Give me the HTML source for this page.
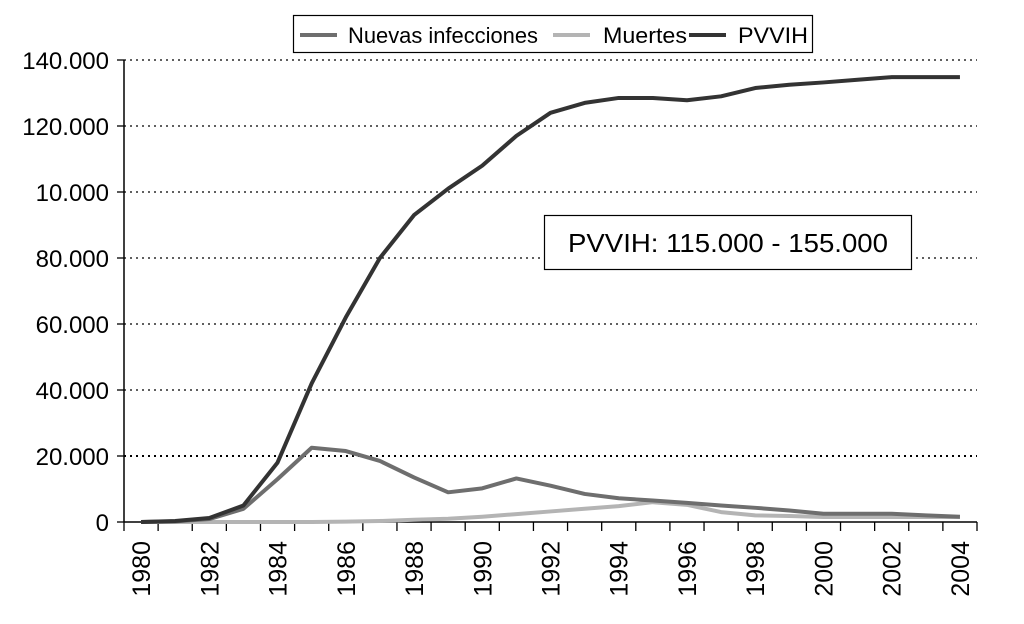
<!DOCTYPE html>
<html><head><meta charset="utf-8"><style>
html,body{margin:0;padding:0;background:#fff;}
svg{display:block;font-family:"Liberation Sans",sans-serif;}
</style></head><body>
<svg id="chart" width="1024" height="624" viewBox="0 0 1024 624">
<g id="grid"></g>
<g id="axes"></g>
<g id="series"></g>
<g>
 <rect x="293.5" y="15.5" width="519" height="37" fill="#fff" stroke="#000" stroke-width="1.2"/>
 <line x1="300" y1="35" x2="337" y2="35" stroke="#6e6e6e" stroke-width="4"/>
 <text x="348" y="43" font-size="22" textLength="190" lengthAdjust="spacingAndGlyphs">Nuevas infecciones</text>
 <line x1="553" y1="35" x2="590" y2="35" stroke="#b4b4b4" stroke-width="4"/>
 <text x="603" y="43" font-size="22" textLength="84" lengthAdjust="spacingAndGlyphs">Muertes</text>
 <line x1="689" y1="35" x2="726" y2="35" stroke="#333" stroke-width="4"/>
 <text x="738" y="43" font-size="22" textLength="70" lengthAdjust="spacingAndGlyphs">PVVIH</text>
</g>
<g>
 <rect x="544.5" y="215.5" width="367" height="54" fill="#fff" stroke="#000" stroke-width="1.2"/>
 <text x="568" y="252" font-size="26" textLength="320" lengthAdjust="spacingAndGlyphs">PVVIH: 115.000 - 155.000</text>
</g>
</svg>
<script>
const years=['1980','1981','1982','1983','1984','1985','1986','1987','1988','1989','1990','1991','1992','1993','1994','1995','1996','1997','1998','1999','2000','2001','2002','2003','2004'];
const pvvih=[0,300,1200,5000,18000,42000,62000,80000,93000,101000,108000,117000,124000,127000,128500,128500,127800,129000,131500,132500,133200,134000,134800,134800,134800];
const nuevas=[0,200,900,4000,13000,22500,21500,18500,13500,9000,10200,13200,11000,8500,7200,6500,5800,5000,4300,3500,2500,2500,2500,2000,1600];
const muertes=[0,0,0,0,0,0,100,300,700,1000,1600,2400,3200,4000,4800,6000,5200,3000,2000,1800,1500,1500,1500,1500,1500];
const yTicks=[0,20000,40000,60000,80000,100000,120000,140000];
const yLabels=['0','20.000','40.000','60.000','80.000','10.000','120.000','140.000'];
const NS='http://www.w3.org/2000/svg';
const X0=124,X1=977,Y0=522,Y1=60,YMAX=140000;
const step=(X1-X0)/years.length;
const xs=i=>X0+step*(i+0.5);
const ys=v=>Y0-(v/YMAX)*(Y0-Y1);
function mk(tag,attrs,parent){const e=document.createElementNS(NS,tag);for(const k in attrs)e.setAttribute(k,attrs[k]);parent.appendChild(e);return e;}
const grid=document.getElementById('grid'),axes=document.getElementById('axes'),ser=document.getElementById('series');
yTicks.forEach((t,i)=>{
 const y=ys(t);
 if(t>0){const g=mk('line',{x1:X0,x2:X1,y1:y,y2:y,stroke:'#000','stroke-width':t==20000?2:1.3,'stroke-dasharray':'2 4'},grid);
 
 }
 const tk=mk('line',{x1:117,x2:X0,y1:y,y2:y,stroke:'#000','stroke-width':1.3},axes);
 
 
 const tx=mk('text',{x:109,y:y+9,'font-size':24,'text-anchor':'end'},axes);
 tx.textContent=yLabels[i];
 
 
});
const ya=mk('line',{x1:X0,x2:X0,y1:Y1,y2:Y0,stroke:'#000','stroke-width':1.5},axes);


const xa=mk('line',{x1:X0,x2:X1,y1:Y0,y2:Y0,stroke:'#000','stroke-width':1.5},axes);


for(let i=0;i<=years.length;i++){
 const x=X0+step*i;
 const t=mk('line',{x1:x,x2:x,y1:Y0,y2:Y0+9,stroke:'#000','stroke-width':1.3},axes);
 
 
}
years.forEach((yr,i)=>{
 if(i%2)return;
 const x=xs(i)+9;
 const t=mk('text',{x:x,y:541,'font-size':25,'text-anchor':'end',transform:`rotate(-90 ${x} 541)`},axes);
 t.textContent=yr;
 
 
});
function line(data,color,name){
 const p=mk('polyline',{points:data.map((v,i)=>xs(i)+','+ys(v)).join(' '),fill:'none',stroke:color,'stroke-width':4,'stroke-linejoin':'round'},ser);
 
 
}
line(muertes,'#b4b4b4','line-muertes');
line(nuevas,'#6e6e6e','line-nuevas-infecciones');
line(pvvih,'#333','line-pvvih');
</script>
</body></html>
